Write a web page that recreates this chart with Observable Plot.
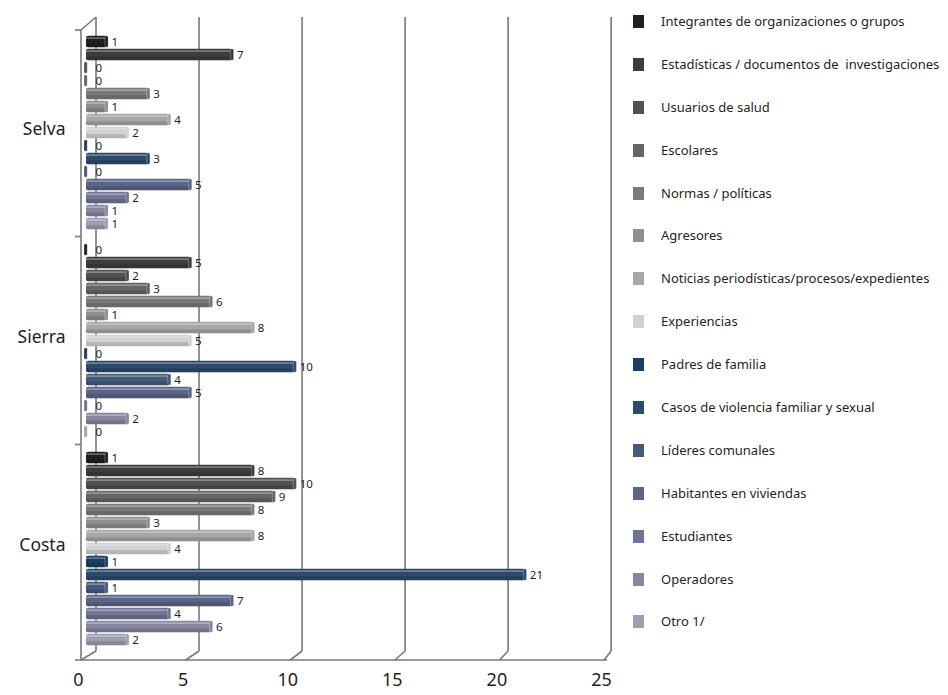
<!DOCTYPE html>
<html>
<head>
<meta charset="utf-8">
<script src="https://cdn.jsdelivr.net/npm/d3@7"></script>
<script src="https://cdn.jsdelivr.net/npm/@observablehq/plot@0.6"></script>
<style>
  body { margin: 0; background: #fff; }
  #wrap { position: relative; width: 948px; height: 695px; font-family: "Noto Sans", sans-serif; }
  #legend { position: absolute; left: 633px; top: 15px; }
  .item { height: 42.9px; display: flex; align-items: flex-start; }
  .sw { width: 11px; height: 13px; margin-right: 17px; flex: none; }
  .lab { font-size: 13px; line-height: 13px; color: #231f20; white-space: pre; }
</style>
</head>
<body>
<div id="wrap"><div id="chart"></div><div id="legend"></div></div>
<script>
const regions = ["Selva", "Sierra", "Costa"];
const series = [
  "Integrantes de organizaciones o grupos",
  "Estadísticas / documentos de  investigaciones",
  "Usuarios de salud",
  "Escolares",
  "Normas / políticas",
  "Agresores",
  "Noticias periodísticas/procesos/expedientes",
  "Experiencias",
  "Padres de familia",
  "Casos de violencia familiar y sexual",
  "Líderes comunales",
  "Habitantes en viviendas",
  "Estudiantes",
  "Operadores",
  "Otro 1/"
];
const colors = [
  "#231f20", "#3d3d3f", "#515153", "#656568", "#7a7a7d", "#8f8f92", "#a6a7a9", "#d0d1d3",
  "#1b3d63", "#2b4a6c", "#465a7a", "#5b6585", "#6f7592", "#8788a0", "#9d9eb2"
];
const selva  = [1, 7, 0, 0, 3, 1, 4, 2, 0, 3, 0, 5, 2, 1, 1];
const sierra = [0, 5, 2, 3, 6, 1, 8, 5, 0, 10, 4, 5, 0, 2, 0];
const costa  = [1, 8, 10, 9, 8, 3, 8, 4, 1, 21, 1, 7, 4, 6, 2];
const xTicks = [0, 5, 10, 15, 20, 25];

const valuesByRegion = {Selva: selva, Sierra: sierra, Costa: costa};
const data = [];
for (const r of regions) series.forEach((s, i) => data.push({region: r, series: s, key: r + "|" + s, value: valuesByRegion[r][i]}));

const yDomain = [];
regions.forEach((r, j) => { yDomain.push("gap" + j); series.forEach(s => yDomain.push(r + "|" + s)); });
yDomain.push("gap3");

function frame(index, scales, values, dim) {
  const x = scales.x, y = scales.y;
  const bw = y.bandwidth();
  const x0 = x(0);
  const yTop = dim.marginTop;
  const yFloor = dim.height - dim.marginBottom;
  const back = v => x0 + 10 + (x(v) - x0) * 0.985;
  const front = v => x(v) - 5;
  const backTop = yTop - 3, backBottom = yFloor - 9, frontTop = yTop + 10;
  const g = d3.create("svg:g").attr("fill", "none").attr("stroke", "#77787b").attr("stroke-width", 1.6);
  for (const v of xTicks) {
    g.append("line").attr("x1", back(v)).attr("x2", back(v)).attr("y1", backTop).attr("y2", backBottom);
    g.append("line").attr("x1", back(v)).attr("x2", front(v)).attr("y1", backBottom).attr("y2", yFloor);
  }
  g.append("line").attr("x1", front(0) - 6).attr("x2", front(25) + 3).attr("y1", yFloor).attr("y2", yFloor);
  g.append("line").attr("x1", front(0)).attr("x2", front(0)).attr("y1", frontTop).attr("y2", yFloor);
  g.append("line").attr("x1", front(0)).attr("x2", back(0)).attr("y1", frontTop).attr("y2", backTop);
  const tickYs = [frontTop, y("gap1") + bw / 2, y("gap2") + bw / 2];
  for (const ty of tickYs) g.append("line").attr("x1", front(0) - 6).attr("x2", front(0)).attr("y1", ty).attr("y2", ty);
  return g.node();
}

const chart = Plot.plot({
  width: 948,
  height: 695,
  marginLeft: 86,
  marginRight: 339,
  marginTop: 20,
  marginBottom: 35,
  style: {fontFamily: "Noto Sans, sans-serif", color: "#231f20", background: "#fff"},
  x: {domain: [0, 25], axis: null, label: null},
  y: {domain: yDomain, padding: 0, axis: null, label: null},
  color: {domain: series, range: colors},
  marks: [
    frame,
    Plot.barX(data, {x: "value", y: "key", fill: "series", insetTop: 0.7, insetBottom: 0.7, rx: 2}),
    Plot.barX(data, {x: "value", y: "key", fill: "#000", fillOpacity: 0.14, insetTop: 8.3, insetBottom: 0.7}),
    Plot.barX(data, {x: "value", y: "key", fill: "#fff", fillOpacity: 0.38, insetTop: 2.4, insetBottom: 9.2}),
    Plot.barX(data, {x1: "value", x2: "value", y: "key", fill: "series", stroke: "#fff", strokeOpacity: 0.45, strokeWidth: 0.6, insetLeft: -2, insetRight: -1.2, insetTop: 0.7, insetBottom: 0.7, rx: 1.6}),
    Plot.text(data.filter(d => d.value > 0), {x: "value", y: "key", text: "value", textAnchor: "start", dx: 4, fontSize: 11.5, fill: "#231f20"}),
    Plot.text(data.filter(d => d.value === 0), {x: "value", y: "key", text: "value", textAnchor: "start", dx: 9, fontSize: 11.5, fill: "#231f20"}),
    Plot.text(regions, {y: r => r + "|" + series[7], text: r => r, frameAnchor: "left", dx: -21, dy: -4, textAnchor: "end", fontSize: 17.5, fill: "#231f20"}),
    Plot.axisX({ticks: xTicks, tickSize: 0, tickPadding: 13, dx: -8, fontSize: 18, fill: "#231f20", label: null})
  ]
});
document.getElementById("chart").appendChild(chart);

const legend = d3.select("#legend");
series.forEach((s, i) => {
  const it = legend.append("div").attr("class", "item");
  it.append("div").attr("class", "sw").style("background", colors[i]);
  it.append("div").attr("class", "lab").text(s);
});
</script>
</body>
</html>
